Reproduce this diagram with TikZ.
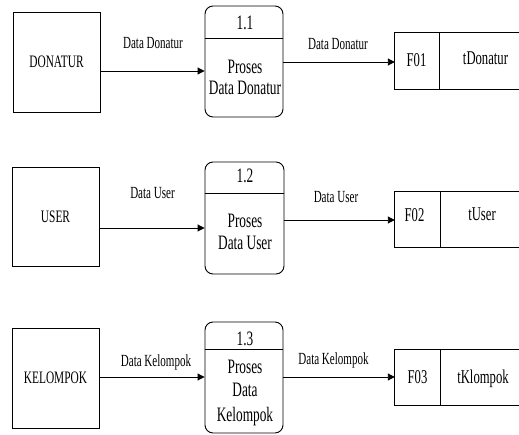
\documentclass[tikz,border=0pt]{standalone}
\usepackage{graphicx}
\usepackage{fontspec}
\setmainfont{Liberation Serif}
\usetikzlibrary{arrows.meta}
\newcommand{\narrowtext}[1]{\scalebox{0.65}[1]{#1}}
\tikzset{
  ent/.style={draw, line width=0.9pt, minimum width=87pt, minimum height=100pt, inner sep=0pt, font=\fontsize{17.5}{17.5}\selectfont},
  proc/.style={draw, line width=0.9pt, rounded corners=8pt, minimum width=78pt, minimum height=111pt, inner sep=0pt},
  store/.style={minimum width=124pt, minimum height=56pt, inner sep=0pt},
  edge/.style={line width=0.9pt},
  flow/.style={line width=0.9pt, -{Triangle[length=7pt,width=7pt]}},
  lbl/.style={anchor=base, inner sep=0pt, font=\fontsize{17}{17}\selectfont},
  ptxt/.style={anchor=base, inner sep=0pt, font=\fontsize{20.5}{20.5}\selectfont},
  stxt/.style={anchor=base, inner sep=0pt, font=\fontsize{19.5}{19.5}\selectfont}
}
\begin{document}
\begin{tikzpicture}[x=1pt,y=-1pt]
\useasboundingbox (0,0) rectangle (519,435);
% ---------- Row 1 ----------
\node[ent] (e1) at (56.5,62) {\narrowtext{DONATUR}};
\node[proc] (p1) at (244,61.5) {};
\draw[edge] (p1.west |- 0,38) -- (p1.east |- 0,38);
\node[ptxt] (p1n) at (245,30) {\narrowtext{1.1}};
\node[ptxt] (p1a) at (245,73.3) {\narrowtext{Proses}};
\node[ptxt] (p1b) at (245,95) {\narrowtext{Data Donatur}};
\node[store] (s1) at (457,61) {};
\draw[edge] (s1.north east) -- (s1.north west) -- (s1.south west) -- (s1.south east);
\draw[edge] (s1.north west -| 439,0) -- (s1.south west -| 439,0);
\node[stxt] (s1a) at (416.5,66.7) {\narrowtext{F01}};
\node[stxt] (s1b) at (485.5,65) {\narrowtext{tDonatur}};
\draw[flow] (e1.east |- 0,71) -- (p1.west |- 0,71);
\node[lbl] (l1a) at (153,48.3) {\narrowtext{Data Donatur}};
\draw[flow] (p1.east |- 0,62) -- (s1.west |- 0,62);
\node[lbl] (l1b) at (338,50) {\narrowtext{Data Donatur}};
% ---------- Row 2 ----------
\node[ent, minimum height=99pt] (e2) at (55.5,216.5) {\narrowtext{USER}};
\node[proc, minimum width=79pt, minimum height=112pt] (p2) at (244.5,218) {};
\draw[edge] (p2.west |- 0,193) -- (p2.east |- 0,193);
\node[ptxt] (p2n) at (245,183) {\narrowtext{1.2}};
\node[ptxt] (p2a) at (245,227.7) {\narrowtext{Proses}};
\node[ptxt] (p2b) at (245,250) {\narrowtext{Data User}};
\node[store, minimum height=55pt] (s2) at (457,219.5) {};
\draw[edge] (s2.north east) -- (s2.north west) -- (s2.south west) -- (s2.south east);
\draw[edge] (s2.north west -| 440,0) -- (s2.south west -| 440,0);
\node[stxt] (s2a) at (414.5,222) {\narrowtext{F02}};
\node[stxt] (s2b) at (482,221) {\narrowtext{tUser}};
\draw[flow] (e2.east |- 0,228) -- (p2.west |- 0,228);
\node[lbl] (l2a) at (152.5,199) {\narrowtext{Data User}};
\draw[flow] (p2.east |- 0,220) -- (s2.west |- 0,220);
\node[lbl] (l2b) at (336,203) {\narrowtext{Data User}};
% ---------- Row 3 ----------
\node[ent] (e3) at (55.5,378) {\narrowtext{KELOMPOK}};
\node[proc] (p3) at (244,377.5) {};
\draw[edge] (p3.west |- 0,349) -- (p3.east |- 0,349);
\node[ptxt] (p3n) at (245,345) {\narrowtext{1.3}};
\node[ptxt] (p3a) at (245,373.3) {\narrowtext{Proses}};
\node[ptxt] (p3b) at (245,396.7) {\narrowtext{Data}};
\node[ptxt] (p3c) at (245,421.7) {\narrowtext{Kelompok}};
\node[store, minimum height=55pt] (s3) at (457,377.5) {};
\draw[edge] (s3.north east) -- (s3.north west) -- (s3.south west) -- (s3.south east);
\draw[edge] (s3.north west -| 440,0) -- (s3.south west -| 440,0);
\node[stxt] (s3a) at (417.5,383) {\narrowtext{F03}};
\node[stxt] (s3b) at (483,383) {\narrowtext{tKlompok}};
\draw[flow] (e3.east |- 0,377) -- (p3.west |- 0,377);
\node[lbl] (l3a) at (156,366) {\narrowtext{Data Kelompok}};
\draw[flow] (p3.east |- 0,377) -- (s3.west |- 0,377);
\node[lbl] (l3b) at (333.5,364.5) {\narrowtext{Data Kelompok}};
\end{tikzpicture}
\end{document}
